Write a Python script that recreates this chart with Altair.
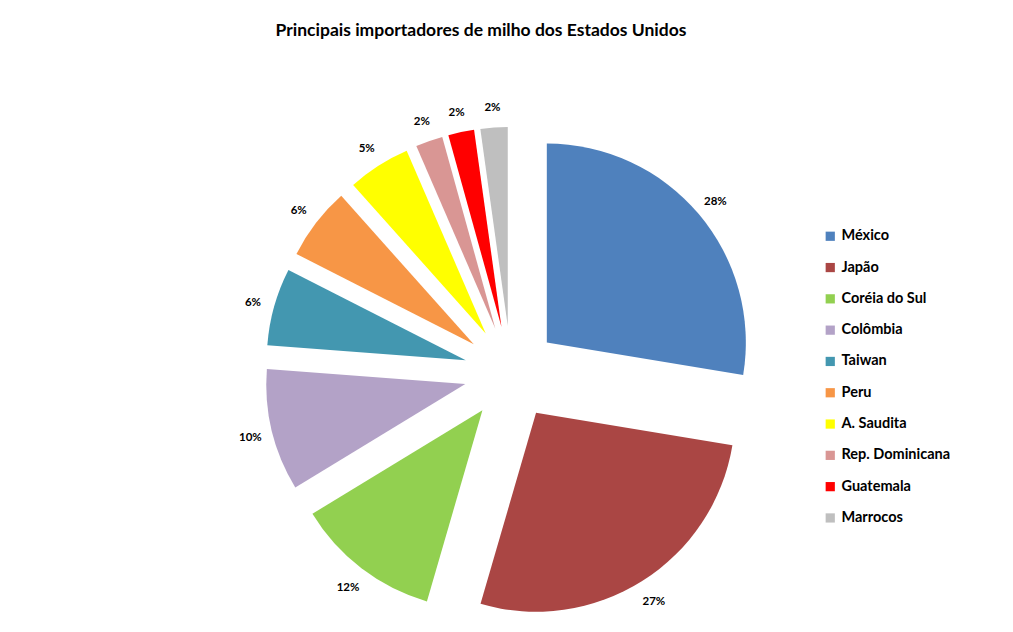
import altair as alt
import pandas as pd

countries = ["México", "Japão", "Coréia do Sul", "Colômbia", "Taiwan", "Peru",
             "A. Saudita", "Rep. Dominicana", "Guatemala", "Marrocos"]
shares = [27.6, 26.9, 11.8, 9.9, 6.3, 5.9, 5.1, 2.2, 2.1, 2.2]
colors = ["#4F81BD", "#AA4644", "#92D050", "#B3A2C7", "#4397B0", "#F79646",
          "#FFFF00", "#D99694", "#FF0000", "#BFBFBF"]

df = pd.DataFrame({"pais": countries, "valor": shares, "ordem": list(range(len(countries)))})

W, H = 1013, 632
CX, CY = 511, 373          # pie centre in pixels
EXPLODE = 47
R = 199
LABEL_R = 268

xscale = alt.Scale(domain=[-CX, W - CX], range=[0, W], nice=False, zero=False)
yscale = alt.Scale(domain=[-(H - CY), CY], range=[H, 0], nice=False, zero=False)

base = alt.Chart(df).transform_window(
    cum="sum(valor)", sort=[alt.SortField("ordem")]
).transform_joinaggregate(
    total="sum(valor)"
).transform_calculate(
    start="2*PI*(datum.cum - datum.valor)/datum.total",
    end="2*PI*datum.cum/datum.total",
).transform_calculate(
    mid="(datum.start + datum.end)/2",
).transform_calculate(
    ex=f"{EXPLODE}*sin(datum.mid)",
    ey=f"{EXPLODE}*cos(datum.mid)",
    lx=f"{LABEL_R}*sin(datum.mid)",
    ly=f"{LABEL_R}*cos(datum.mid) - 2",
    pct="format(datum.valor/datum.total, '.0%')",
)

arcs = base.mark_arc(outerRadius=R, stroke=None).encode(
    x=alt.X("ex:Q", scale=xscale, axis=None),
    y=alt.Y("ey:Q", scale=yscale, axis=None),
    theta=alt.Theta("start:Q", scale=None, stack=None),
    theta2="end:Q",
    color=alt.Color(
        "pais:N",
        scale=alt.Scale(domain=countries, range=colors),
        sort=countries,
        legend=alt.Legend(
            title=None, orient="none", legendX=823, legendY=229,
            symbolType="square", symbolSize=85, symbolStrokeWidth=0,
            labelFont="Lato", labelFontSize=14.5, labelFontWeight="bold",
            labelColor="#000000", rowPadding=16.3, labelOffset=4,
        ),
    ),
)

labels = base.mark_text(font="Lato", fontSize=11.5, fontWeight="bold", color="#000000").encode(
    x=alt.X("lx:Q", scale=xscale, axis=None),
    y=alt.Y("ly:Q", scale=yscale, axis=None),
    text="pct:N",
)

title = alt.Chart(pd.DataFrame({"t": ["Principais importadores de milho dos Estados Unidos"]})).mark_text(
    font="Lato", fontSize=17.5, fontWeight="bold", color="#000000"
).encode(
    x=alt.value(481), y=alt.value(31), text="t:N"
)

chart = alt.layer(arcs, labels, title).properties(
    width=W, height=H, padding=0, autosize=alt.AutoSizeParams(type="none"),
    background="#FFFFFF",
).configure_view(stroke=None)

chart.save("out.html", embed_options={"renderer": "svg", "actions": False})
